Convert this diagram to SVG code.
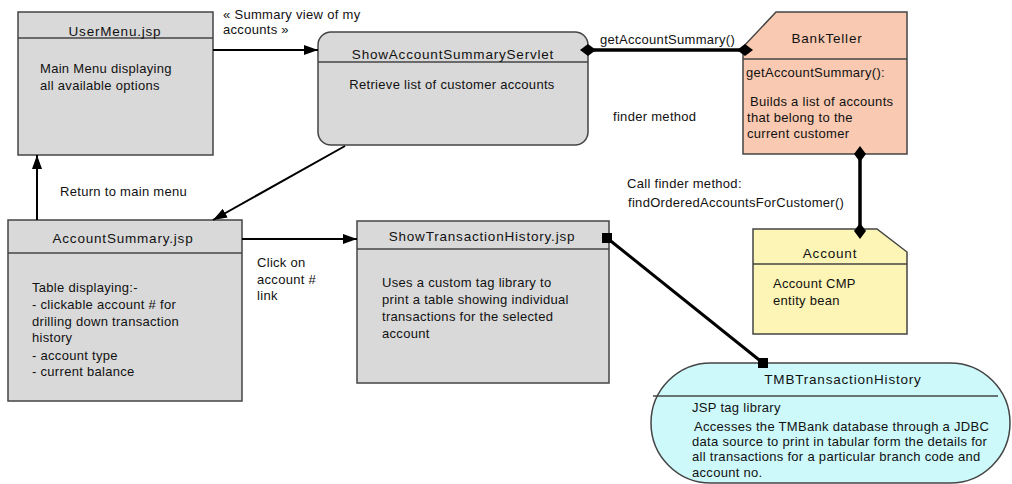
<svg xmlns="http://www.w3.org/2000/svg" width="1012" height="484" viewBox="0 0 1012 484">
<style>
text{font-family:"Liberation Sans",Arial,sans-serif;font-size:13px;fill:#111;letter-spacing:0.3px}
.t{text-anchor:middle;font-size:13.5px;letter-spacing:0.8px}
.box{stroke:#444;stroke-width:1.5}
.gray{fill:#d9d9d9}
.div{stroke:#444;stroke-width:1.5;fill:none}
.conn{stroke:#000;stroke-width:2;fill:none}
.thick{stroke:#000;stroke-width:3.5;fill:none}
</style>
<defs>
<marker id="arr" viewBox="0 0 14 10" refX="14" refY="5" markerWidth="14" markerHeight="10" markerUnits="userSpaceOnUse" orient="auto">
<path d="M0,0 L14,5 L0,10 Z" fill="#000"/>
</marker>
<marker id="dia" viewBox="0 0 16 12" refX="8" refY="6" markerWidth="16" markerHeight="12" markerUnits="userSpaceOnUse" orient="auto">
<path d="M0,6 L8,0 L16,6 L8,12 Z" fill="#000"/>
</marker>
<marker id="sq" viewBox="0 0 10 10" refX="5" refY="5" markerWidth="10" markerHeight="10" markerUnits="userSpaceOnUse" orient="0">
<rect x="0" y="0" width="10" height="10" fill="#000"/>
</marker>
</defs>

<g id="UserMenu">
<rect class="box gray" x="18" y="12" width="195" height="143"/>
<line class="div" x1="18" y1="38" x2="213" y2="38"/>
<text class="t" x="115" y="36">UserMenu.jsp</text>
<text x="40" y="73">Main Menu displaying</text>
<text x="40" y="90">all available options</text>
</g>

<g id="ShowAccountSummaryServlet">
<rect class="box gray" x="318" y="32" width="270" height="113" rx="13" ry="13"/>
<line class="div" x1="318" y1="62" x2="588" y2="62"/>
<text class="t" x="453" y="59">ShowAccountSummaryServlet</text>
<text x="452" y="89" text-anchor="middle">Retrieve list of customer accounts</text>
</g>

<g id="BankTeller">
<path class="box" fill="#f9c9b1" d="M776,12 L907,12 L907,154 L743,154 L743,47 Z"/>
<line class="div" x1="743" y1="59" x2="907" y2="59"/>
<text class="t" x="827" y="43">BankTeller</text>
<text x="746" y="77">getAccountSummary():</text>
<text x="750" y="106">Builds a list of accounts</text>
<text x="747" y="122">that belong to the</text>
<text x="747" y="138">current customer</text>
</g>

<g id="Account">
<path class="box" fill="#fdf5b5" d="M753,229 L877,229 L907,252 L907,334 L753,334 Z"/>
<line class="div" x1="753" y1="264" x2="907" y2="264"/>
<text class="t" x="830" y="258">Account</text>
<text x="773" y="288">Account CMP</text>
<text x="773" y="305">entity bean</text>
</g>

<g id="AccountSummary">
<rect class="box gray" x="8" y="220" width="234" height="181"/>
<line class="div" x1="8" y1="253" x2="242" y2="253"/>
<text class="t" x="123" y="243">AccountSummary.jsp</text>
<text x="32" y="292">Table displaying:-</text>
<text x="32" y="309">- clickable account # for</text>
<text x="32" y="326">drilling down transaction</text>
<text x="32" y="342">history</text>
<text x="32" y="360">- account type</text>
<text x="32" y="376">- current balance</text>
</g>

<g id="ShowTransactionHistory">
<rect class="box gray" x="357" y="221" width="252" height="162"/>
<line class="div" x1="357" y1="249" x2="609" y2="249"/>
<text class="t" x="482" y="241">ShowTransactionHistory.jsp</text>
<text x="382" y="287">Uses a custom tag library to</text>
<text x="382" y="304">print a table showing individual</text>
<text x="382" y="321">transactions for the selected</text>
<text x="382" y="338">account</text>
</g>

<g id="TMBTransactionHistory">
<rect class="box" fill="#cdf9fb" x="651" y="363" width="359" height="120" rx="60" ry="60"/>
<line class="div" x1="653" y1="396" x2="998" y2="396"/>
<text class="t" x="843" y="384">TMBTransactionHistory</text>
<text x="692" y="412">JSP tag library</text>
<text x="694" y="431">Accesses the TMBank database through a JDBC</text>
<text x="692" y="446">data source to print in tabular form the details for</text>
<text x="692" y="461">all transactions for a particular branch code and</text>
<text x="692" y="477">account no.</text>
</g>

<g id="connectors">
<line class="conn" x1="213" y1="50" x2="318" y2="50" marker-end="url(#arr)"/>
<text x="223" y="19">« Summary view of my</text>
<text x="223" y="34">accounts »</text>
<line class="thick" x1="588" y1="50" x2="745" y2="50" marker-start="url(#dia)" marker-end="url(#dia)"/>
<text x="600" y="44">getAccountSummary()</text>
<line class="thick" x1="860" y1="154" x2="860" y2="231" marker-start="url(#dia)" marker-end="url(#dia)"/>
<text x="627" y="188">Call finder method:</text>
<text x="628" y="207">findOrderedAccountsForCustomer()</text>
<line class="conn" x1="345" y1="146" x2="213" y2="220" marker-end="url(#arr)"/>
<line class="conn" x1="37" y1="220" x2="37" y2="155" marker-end="url(#arr)"/>
<text x="60" y="196">Return to main menu</text>
<line class="conn" x1="242" y1="239" x2="357" y2="239" marker-end="url(#arr)"/>
<text x="257" y="267">Click on</text>
<text x="257" y="284">account #</text>
<text x="257" y="300">link</text>
<line class="thick" x1="607" y1="238" x2="763" y2="363" style="stroke-width:3" marker-start="url(#sq)" marker-end="url(#sq)"/>
<text x="613" y="121">finder method</text>
</g>
</svg>
